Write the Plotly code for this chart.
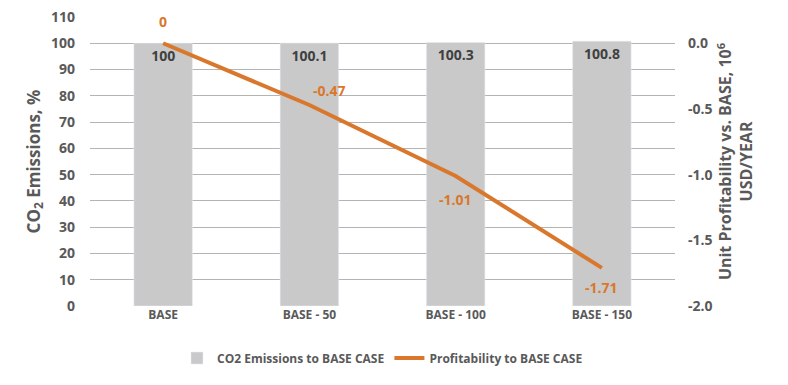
import plotly.graph_objects as go

categories = ["BASE", "BASE - 50", "BASE - 100", "BASE - 150"]
co2_values = [100, 100.1, 100.3, 100.8]
profit_values = [0, -0.47, -1.01, -1.71]
profit_labels = ["0", "-0.47", "-1.01", "-1.71"]
left_ticks = list(range(0, 111, 10))
right_ticks = [0.0, -0.5, -1.0, -1.5, -2.0]
right_tick_labels = ["0.0", "-0.5", "-1.0", "-1.5", "-2.0"]

FONT = "Open Sans"
GRAY = "#595959"
ORANGE = "#D9782D"

fig = go.Figure()
fig.add_trace(go.Bar(
    x=categories, y=co2_values, name="CO2 Emissions to BASE CASE",
    marker=dict(color="#C9C9C9"), width=0.4,
    text=[str(v) for v in co2_values], textposition="inside",
    insidetextanchor="end", textangle=0,
    textfont=dict(color="#404040", size=14, family=FONT, weight="bold"),
))
fig.add_trace(go.Scatter(
    x=categories, y=profit_values, name="Profitability to BASE CASE",
    yaxis="y2", mode="lines",
    line=dict(color=ORANGE, width=4),
))

offsets = [(0, 22), (20, 15), (0, -24), (0, -20)]
for cat, val, lab, (dx, dy) in zip(categories, profit_values, profit_labels, offsets):
    fig.add_annotation(x=cat, y=val, xref="x", yref="y2", text=lab,
                       showarrow=False, xshift=dx, yshift=dy,
                       font=dict(color=ORANGE, size=14, family=FONT, weight="bold"))

fig.update_layout(
    width=788, height=385,
    margin=dict(l=90, r=113, t=17, b=73),
    paper_bgcolor="white", plot_bgcolor="white",
    font=dict(family=FONT, color=GRAY, size=13),
    showlegend=True,
    legend=dict(orientation="h", x=0.5, xanchor="center", y=-0.13, yanchor="top",
                font=dict(size=12, color=GRAY, family=FONT, weight="bold"),
                traceorder="normal"),
    xaxis=dict(showgrid=False, showline=False, ticks="",
               tickfont=dict(size=12, color=GRAY, family=FONT, weight="bold")),
    yaxis=dict(range=[0, 110], tickvals=left_ticks, showgrid=True,
               gridcolor="#B4B4B4", gridwidth=1, zeroline=False, automargin=False,
               tickfont=dict(size=14, color=GRAY, family=FONT, weight="bold"),
               ticklabelstandoff=14,
               title=dict(text="CO<sub>2</sub> Emissions, %", standoff=6,
                          font=dict(size=17, color=GRAY, family=FONT, weight="bold"))),
    yaxis2=dict(overlaying="y", side="right", range=[-2.0, 0.2],
                tickvals=right_ticks, ticktext=right_tick_labels, showgrid=False,
                zeroline=False, automargin=False,
                tickfont=dict(size=14, color=GRAY, family=FONT, weight="bold"),
                ticklabelstandoff=12,
                title=dict(text="Unit Profitability vs. BASE, 10<sup>6</sup><br>USD/YEAR",
                           standoff=8,
                           font=dict(size=16, color=GRAY, family=FONT, weight="bold"))),
)

fig.write_html("out.html", config={"displayModeBar": False},
               post_script="document.body.style.margin='0';")
